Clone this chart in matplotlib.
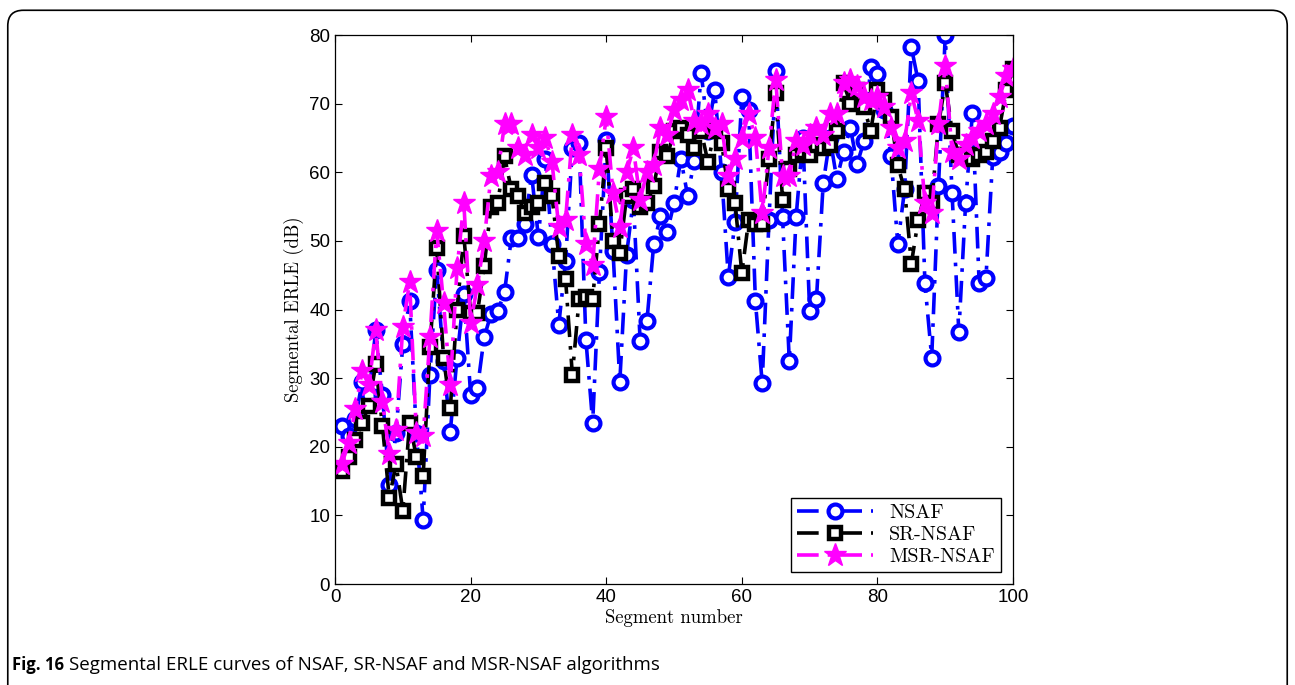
import numpy as np
import matplotlib
matplotlib.use('Agg')
import matplotlib.pyplot as plt
from matplotlib.patches import FancyBboxPatch

# segmental ERLE per segment (dB)
segments = np.arange(1, 101)

nsaf = [23, 21.5, 24, 29.5, 27.5, 37, 27.5, 14.5, 22, 35,
        41.3, 22, 9.4, 30.5, 45.8, 32.5, 22.2, 33, 42.3, 27.6,
        28.5, 36, 39.3, 39.8, 42.5, 50.4, 50.4, 52.4, 59.6, 50.5,
        62, 49.5, 37.8, 47, 63.5, 64.2, 35.6, 23.5, 45.5, 64.7,
        48.5, 29.5, 48, 56, 35.4, 38.3, 49.5, 53.6, 51.3, 55.5,
        62, 56.6, 61.7, 74.5, 66, 72, 60, 44.7, 52.8, 71,
        69, 41.2, 29.3, 53, 74.8, 53.5, 32.5, 53.5, 65, 39.8,
        41.5, 58.4, 65, 59, 63, 66.5, 61.2, 64.5, 75.3, 74.3,
        69, 62.3, 49.5, 57.5, 78.2, 73.3, 43.8, 33, 58, 80,
        57, 36.7, 55.5, 68.6, 43.8, 44.6, 62.2, 63, 64.3, 66.8]

sr_nsaf = [16.5, 18.5, 21, 23.5, 26, 32, 23, 12.5, 17.5, 10.7,
           23.5, 18.5, 15.8, 34.5, 49, 33, 25.6, 40, 50.7, 39.5,
           39.5, 46.3, 55, 55.5, 62.3, 57.5, 56.5, 54, 55, 55.5,
           58.5, 56.5, 47.8, 44.5, 30.5, 41.5, 41.8, 41.6, 52.4, 63.5,
           50, 48.3, 56.5, 57.5, 55, 55.5, 58, 63, 62.3, 66,
           66.5, 65.5, 63.5, 66, 61.5, 66, 64.3, 57.5, 55.5, 45.3,
           53, 52.5, 52.5, 62, 71.5, 56, 60.5, 62.5, 63, 62.5,
           64, 63.5, 64, 66, 73, 70, 72, 69.5, 66, 72,
           70.5, 68, 61, 57.5, 46.7, 53, 57, 55.5, 67, 73,
           66, 62.5, 62.5, 62, 62.5, 63, 64.5, 66.5, 72, 75]

msr_nsaf = [17.5, 20.5, 25.5, 31, 29, 37, 26.5, 19, 22.5, 37.5,
            44, 22, 21.5, 36, 51.5, 41, 29, 46, 55.5, 38,
            43.5, 50, 59.5, 60, 67, 67, 63.5, 62.5, 65.5, 63.5,
            65, 61.5, 52, 53, 65.5, 62.5, 49.5, 46.5, 60.5, 68,
            57, 52, 60, 63.5, 56, 60, 61, 66.5, 65.5, 69,
            70.5, 72, 67.5, 67, 68.5, 66.5, 67, 59.5, 62, 65,
            68.5, 65, 54, 63.5, 73.5, 59.5, 59.5, 64.5, 64, 65.5,
            66.5, 65.5, 68.5, 68.5, 73, 73.5, 72.5, 71, 70.5, 71,
            69.5, 66.5, 63.5, 64.5, 71.5, 67.5, 55.5, 54, 67, 75.5,
            63, 62, 64, 65, 66, 67, 68.5, 71, 74, 75]

series_names = ['NSAF', 'SR-NSAF', 'MSR-NSAF']

fig = plt.figure(figsize=(12.95, 6.85), dpi=100)

# page frame around figure + caption
frame = FancyBboxPatch((0.006, -0.05), 0.988, 1.035, boxstyle='round,pad=0,rounding_size=0.012',
                       transform=fig.transFigure, facecolor='none', edgecolor='black',
                       linewidth=1.2, mutation_aspect=1.9)
fig.patches.append(frame)

ax = fig.add_axes([0.2587, 0.1474, 0.5236, 0.8015])

serif = 'cmr10'
dashdot = (0, (6, 2.5, 1, 2.5))

ax.plot(segments, nsaf, linestyle=dashdot, color='#0000ff', linewidth=2.6,
        marker='o', markersize=10, markerfacecolor='white', markeredgecolor='#0000ff',
        markeredgewidth=3, label=series_names[0])
ax.plot(segments, sr_nsaf, linestyle=dashdot, color='black', linewidth=2.6,
        marker='s', markersize=8.5, markerfacecolor='white', markeredgecolor='black',
        markeredgewidth=3.2, label=series_names[1])
ax.plot(segments, msr_nsaf, linestyle=dashdot, color='#ff00ff', linewidth=2.6,
        marker='*', markersize=17, markerfacecolor='#ff00ff', markeredgecolor='#ff00ff',
        markeredgewidth=1, label=series_names[2])

ax.set_xlim(0, 100)
ax.set_ylim(0, 80)
ax.set_xticks(np.arange(0, 101, 20))
ax.set_yticks(np.arange(0, 81, 10))
ax.tick_params(direction='in', top=True, right=True, length=5, width=0.8,
               labelsize=13.5)
for label in ax.get_xticklabels() + ax.get_yticklabels():
    label.set_fontfamily('Liberation Sans')
for s in ax.spines.values():
    s.set_linewidth(0.9)

ax.set_xlabel('Segment number', fontfamily=serif, fontsize=13.5, labelpad=2)
ax.set_ylabel('Segmental ERLE (dB)', fontfamily=serif, fontsize=13.5, labelpad=4)

leg = ax.legend(loc='lower right', prop={'family': serif, 'size': 14.5},
                fancybox=False, framealpha=1, edgecolor='black',
                handlelength=3.8, borderpad=0.3, labelspacing=0.2,
                borderaxespad=0.6)
leg.get_frame().set_linewidth(1.0)

fig.text(0.009, 0.022, 'Fig. 16', fontfamily='Open Sans', fontweight='bold', fontsize=12)
fig.text(0.0535, 0.022, 'Segmental ERLE curves of NSAF, SR-NSAF and MSR-NSAF algorithms',
         fontfamily='Open Sans', fontsize=13.5)

fig.savefig('out.png', dpi=100)
